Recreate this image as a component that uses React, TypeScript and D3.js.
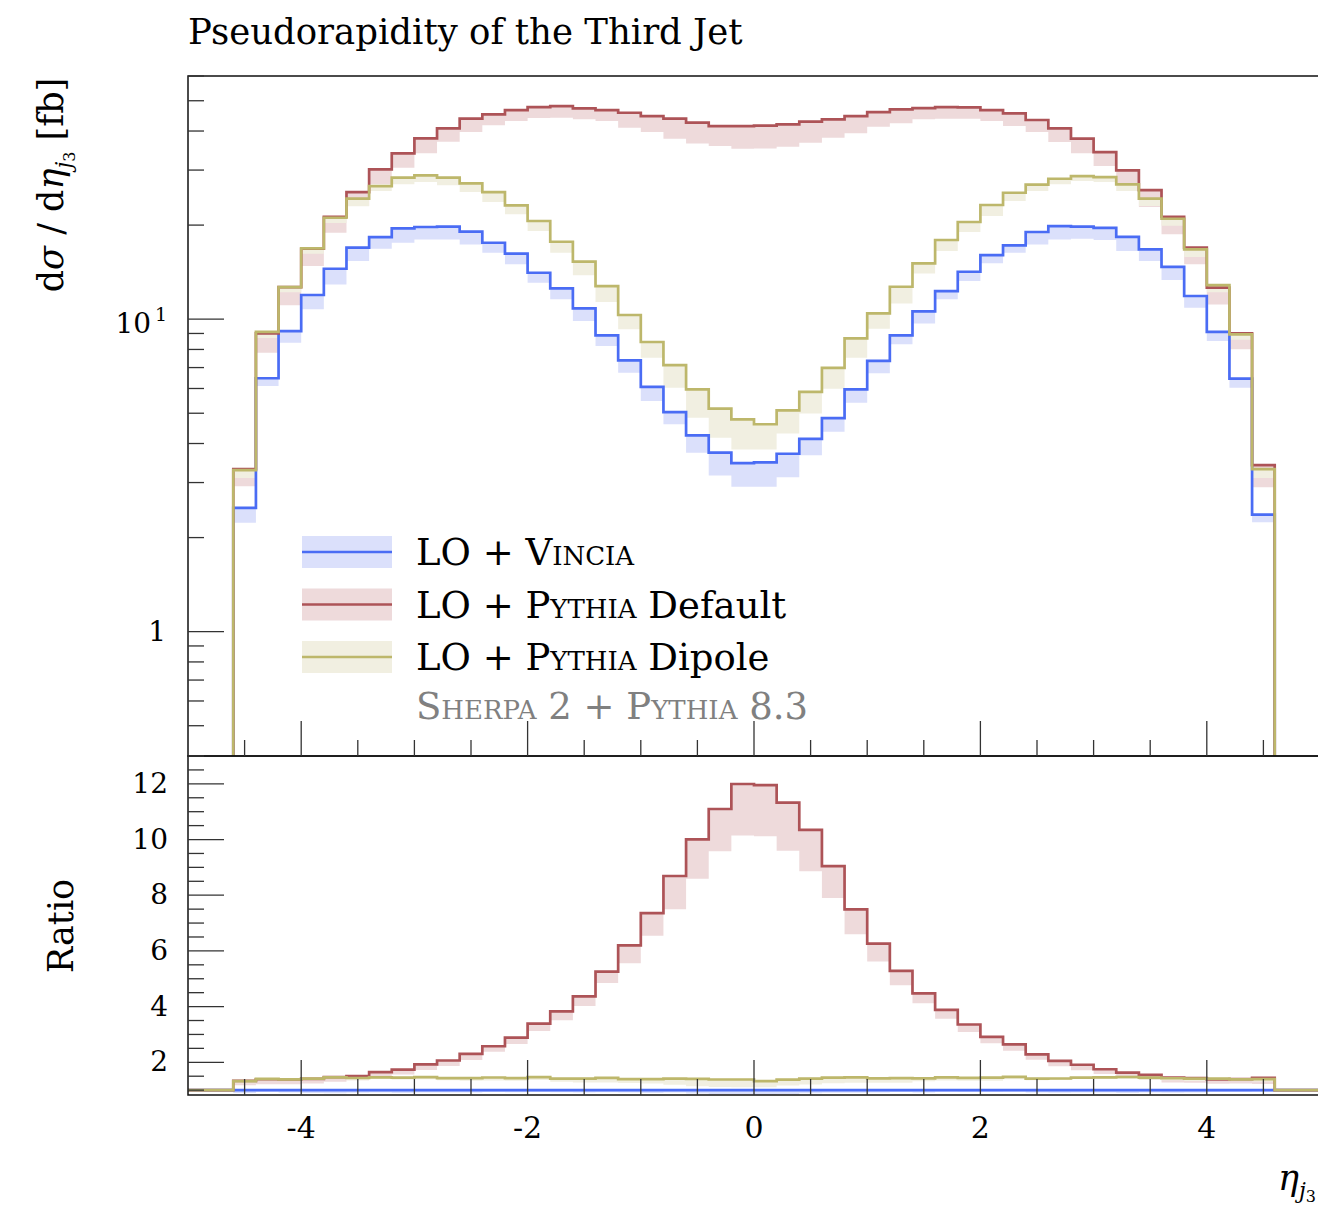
import React, { useEffect, useRef } from 'react';
import * as d3 from 'd3';

// bin edges in eta (46 bins of 0.2)
const binEdges = [
  -4.6, -4.4, -4.2, -4.0, -3.8, -3.6, -3.4, -3.2, -3.0, -2.8, -2.6, -2.4, -2.2, -2.0, -1.8, -1.6,
  -1.4, -1.2, -1.0, -0.8, -0.6, -0.4, -0.2, 0, 0.2, 0.4, 0.6, 0.8, 1.0, 1.2, 1.4, 1.6, 1.8, 2.0,
  2.2, 2.4, 2.6, 2.8, 3.0, 3.2, 3.4, 3.6, 3.8, 4.0, 4.2, 4.4, 4.6
];

// LO + Vincia
const vincia = [
  2.49, 6.47, 9.16, 11.95, 14.5, 16.93, 18.31, 19.53, 19.72, 19.77, 19.05, 17.56, 16.2, 14.08, 12.55, 10.83,
  8.88, 7.38, 6.07, 5.04, 4.25, 3.74, 3.46, 3.48, 3.71, 4.14, 4.82, 5.96, 7.35, 8.88, 10.59, 12.3,
  14.18, 16.04, 17.22, 19.01, 19.86, 19.77, 19.58, 18.35, 16.73, 14.69, 11.86, 9.1, 6.45, 2.37
];
const vinciaLow = [
  2.23, 6.11, 8.41, 10.75, 12.92, 15.35, 16.81, 17.56, 18.0, 18.0, 17.35, 16.32, 14.98, 13.08, 11.57, 9.86,
  8.2, 6.74, 5.47, 4.61, 3.74, 3.16, 2.91, 2.91, 3.12, 3.67, 4.36, 5.4, 6.71, 8.31, 9.69, 11.57,
  13.24, 15.09, 16.32, 17.35, 18.0, 18.1, 17.92, 16.52, 15.35, 13.34, 10.88, 8.51, 6.03, 2.24
];

// LO + Pythia Default
const pythiaDefault = [
  3.31, 9.0, 12.67, 16.8, 21.27, 25.51, 30.16, 33.93, 37.9, 40.79, 43.8, 45.22, 46.69, 47.73, 48.08, 47.27,
  46.69, 45.76, 44.67, 43.8, 42.53, 41.5, 41.5, 41.6, 42.02, 42.84, 43.6, 44.67, 46.0, 46.92, 47.37, 47.73,
  47.6, 46.69, 45.55, 43.38, 40.79, 37.8, 34.26, 29.94, 25.89, 21.27, 16.93, 12.61, 9.01, 3.41
];
const pythiaDefaultLow = [
  2.92, 7.81, 11.07, 14.79, 18.91, 23.01, 27.01, 30.52, 33.93, 36.97, 39.7, 41.71, 43.06, 44.02, 44.1, 43.6,
  43.06, 40.98, 39.7, 37.8, 36.52, 35.81, 35.11, 35.2, 35.6, 36.69, 38.08, 39.33, 41.29, 42.33, 43.6, 43.8,
  43.8, 43.06, 41.5, 39.7, 36.9, 33.93, 30.9, 27.21, 22.85, 18.68, 14.98, 11.15, 8.01, 2.9
];

// LO + Pythia Dipole
const pythiaDipole = [
  3.29, 9.1, 12.67, 16.85, 21.11, 24.29, 26.67, 28.36, 28.86, 28.36, 27.21, 25.51, 23.13, 20.61, 17.69, 15.27,
  12.76, 10.31, 8.45, 7.13, 5.96, 5.17, 4.78, 4.61, 5.11, 5.85, 6.98, 8.68, 10.44, 12.7, 15.09, 17.92,
  20.46, 23.19, 25.38, 26.93, 28.14, 28.71, 28.5, 27.01, 24.29, 20.96, 16.73, 12.86, 8.94, 3.31
];
const pythiaDipoleLow = [
  3.1, 8.7, 12.2, 16.2, 20.3, 23.0, 25.7, 27.0, 27.47, 26.82, 25.51, 23.71, 21.65, 19.14, 16.32, 13.81,
  11.34, 9.28, 7.52, 6.03, 4.84, 4.17, 3.83, 3.83, 4.31, 4.99, 5.99, 7.52, 9.32, 11.23, 14.01, 16.52,
  19.01, 21.38, 23.88, 25.7, 27.01, 27.67, 27.47, 25.7, 23.01, 19.9, 15.8, 12.2, 8.6, 3.1
];

const xMajorTicks = [-4, -2, 0, 2, 4];
const yMainMajor = [1, 10];
const yMainMinor = [0.4, 0.5, 0.6, 0.7, 0.8, 0.9, 2, 3, 4, 5, 6, 7, 8, 9, 20, 30, 40, 50, 60];
const yRatioMajor = [2, 4, 6, 8, 10, 12];

const FONT = '"DejaVu Serif", "Liberation Serif", serif';

export default function App() {
  const svgRef = useRef<SVGSVGElement>(null);

  useEffect(() => {
    if (!svgRef.current) return;
    const svg = d3.select(svgRef.current);
    svg.selectAll('*').remove();

    const left = 188, right = 1320, top = 76, mid = 756, bottom = 1095;

    const x = d3.scaleLinear().domain([-5, 5]).range([left, right]);
    const y = d3.scaleLog().domain([0.4, 60]).range([mid, top]);
    const yr = d3.scaleLinear().domain([0.825, 13]).range([bottom, mid]);

    const series = [
      { name: 'Vincia', values: vincia, low: vinciaLow, line: '#4a6cf4', band: '#dbe0fb' },
      { name: 'Default', values: pythiaDefault, low: pythiaDefaultLow, line: '#ad5357', band: '#eedadb' },
      { name: 'Dipole', values: pythiaDipole, low: pythiaDipoleLow, line: '#bdb76b', band: '#f1efe1' }
    ];
    const nb = binEdges.length - 1;
    const at = (arr: number[], i: number) => arr[Math.min(i, nb - 1)];

    const defs = svg.append('defs');
    defs.append('clipPath').attr('id', 'clipMain').append('rect')
      .attr('x', left).attr('y', top).attr('width', right - left).attr('height', mid - top);
    defs.append('clipPath').attr('id', 'clipRatio').append('rect')
      .attr('x', left).attr('y', mid).attr('width', right - left).attr('height', bottom - mid);

    // ---- main panel ----
    const gMain = svg.append('g').attr('clip-path', 'url(#clipMain)');
    series.forEach(s => {
      const pts = binEdges.map((e, i) => ({ x: e, lo: at(s.low, i), hi: at(s.values, i) }));
      const area = d3.area<any>().curve(d3.curveStepAfter)
        .x(d => x(d.x)).y0(d => y(d.lo)).y1(d => y(d.hi));
      gMain.append('path').attr('d', area(pts)).attr('fill', s.band);
    });
    series.forEach(s => {
      const pts = [
        { x: binEdges[0], v: 0.1 },
        ...binEdges.map((e, i) => ({ x: e, v: at(s.values, i) })),
        { x: binEdges[nb], v: 0.1 }
      ];
      const line = d3.line<any>().curve(d3.curveStepAfter).x(d => x(d.x)).y(d => y(d.v));
      gMain.append('path').attr('d', line(pts)).attr('fill', 'none')
        .attr('stroke', s.line).attr('stroke-width', 2.7);
    });

    // ---- ratio panel ----
    const gRatio = svg.append('g').attr('clip-path', 'url(#clipRatio)');
    series.forEach(s => {
      const pts = binEdges.map((e, i) => ({
        x: e, lo: at(s.low, i) / at(vincia, i), hi: at(s.values, i) / at(vincia, i)
      }));
      const area = d3.area<any>().curve(d3.curveStepAfter)
        .x(d => x(d.x)).y0(d => yr(d.lo)).y1(d => yr(d.hi));
      gRatio.append('path').attr('d', area(pts)).attr('fill', s.band);
    });
    series.forEach(s => {
      const pts = [
        { x: -5, v: 1 },
        ...binEdges.slice(0, nb).map((e, i) => ({ x: e, v: s.values[i] / vincia[i] })),
        { x: binEdges[nb], v: 1 },
        { x: 5, v: 1 }
      ];
      const line = d3.line<any>().curve(d3.curveStepAfter).x(d => x(d.x)).y(d => yr(d.v));
      gRatio.append('path').attr('d', line(pts)).attr('fill', 'none')
        .attr('stroke', s.line).attr('stroke-width', 2.7);
    });

    // ---- frames ----
    [[top, mid], [mid, bottom]].forEach(([t, b]) => {
      svg.append('rect').attr('x', left).attr('y', t).attr('width', right - left).attr('height', b - t)
        .attr('fill', 'none').attr('stroke', '#111').attr('stroke-width', 1.5);
    });

    // ---- ticks ----
    const ticks = svg.append('g').attr('stroke', '#333').attr('stroke-width', 1.3);
    const xMinor = d3.range(-4.5, 5, 0.5).filter(t => !xMajorTicks.includes(t));
    [mid, bottom].forEach(base => {
      xMajorTicks.forEach(t => ticks.append('line')
        .attr('x1', x(t)).attr('x2', x(t)).attr('y1', base).attr('y2', base - 35));
      xMinor.forEach(t => ticks.append('line')
        .attr('x1', x(t)).attr('x2', x(t)).attr('y1', base).attr('y2', base - 16));
    });
    yMainMajor.forEach(t => ticks.append('line')
      .attr('x1', left).attr('x2', left + 36).attr('y1', y(t)).attr('y2', y(t)));
    yMainMinor.forEach(t => ticks.append('line')
      .attr('x1', left).attr('x2', left + 16).attr('y1', y(t)).attr('y2', y(t)));
    const yrMinor = d3.range(1, 13, 0.5).filter(t => !yRatioMajor.includes(t));
    yRatioMajor.forEach(t => ticks.append('line')
      .attr('x1', left).attr('x2', left + 36).attr('y1', yr(t)).attr('y2', yr(t)));
    yrMinor.forEach(t => ticks.append('line')
      .attr('x1', left).attr('x2', left + 16).attr('y1', yr(t)).attr('y2', yr(t)));

    // ---- tick labels ----
    const txt = svg.append('g').style('font-family', FONT).attr('fill', '#000');
    const tenth = txt.append('text').attr('x', 167).attr('y', 333).attr('text-anchor', 'end')
      .style('font-size', '28px');
    tenth.append('tspan').text('10');
    tenth.append('tspan').attr('dy', -12).style('font-size', '19px').text('\u2009' + '1');
    txt.append('text').attr('x', 166).attr('y', 641).attr('text-anchor', 'end')
      .style('font-size', '28px').text('1');
    yRatioMajor.forEach(t => txt.append('text').attr('x', 168).attr('y', yr(t) + 9)
      .attr('text-anchor', 'end').style('font-size', '28px').text(String(t)));
    xMajorTicks.forEach(t => txt.append('text').attr('x', x(t)).attr('y', 1138)
      .attr('text-anchor', 'middle').style('font-size', '30px').text(t < 0 ? '-' + Math.abs(t) : String(t)));

    // ---- titles ----
    txt.append('text').attr('x', 188).attr('y', 44).style('font-size', '35.5px')
      .text('Pseudorapidity of the Third Jet');

    const yl = txt.append('text').attr('transform', 'translate(63,185) rotate(-90)')
      .attr('text-anchor', 'middle').style('font-size', '35px');
    yl.append('tspan').text('d');
    yl.append('tspan').style('font-style', 'italic').text('σ');
    yl.append('tspan').text(' / d');
    yl.append('tspan').style('font-style', 'italic').text('η');
    yl.append('tspan').style('font-style', 'italic').style('font-size', '22px').attr('dy', 8).text('j');
    yl.append('tspan').style('font-size', '16px').attr('dy', 4).text('3');
    yl.append('tspan').attr('dy', -12).text(' [fb]');

    txt.append('text').attr('transform', 'translate(73,926) rotate(-90)')
      .attr('text-anchor', 'middle').style('font-size', '35px').text('Ratio');

    const xl = txt.append('text').attr('x', 1316).attr('y', 1190).attr('text-anchor', 'end')
      .style('font-size', '35px');
    xl.append('tspan').style('font-style', 'italic').text('η');
    xl.append('tspan').style('font-style', 'italic').style('font-size', '22px').attr('dy', 8).text('j');
    xl.append('tspan').style('font-size', '16px').attr('dy', 4).text('3');

    // ---- legend ----
    const legendLabels = [
      ['LO + ', 'Vincia', ''],
      ['LO + ', 'Pythia', ' Default'],
      ['LO + ', 'Pythia', ' Dipole']
    ];
    const rowY = [552, 604.5, 657];
    series.forEach((s, i) => {
      svg.append('rect').attr('x', 302).attr('y', rowY[i] - 16).attr('width', 90).attr('height', 32)
        .attr('fill', s.band);
      svg.append('line').attr('x1', 302).attr('x2', 392).attr('y1', rowY[i]).attr('y2', rowY[i])
        .attr('stroke', s.line).attr('stroke-width', 2.7);
      const t = txt.append('text').attr('x', 416).attr('y', rowY[i] + 13).style('font-size', '37px');
      t.append('tspan').text(legendLabels[i][0]);
      t.append('tspan').style('font-variant', 'small-caps').text(legendLabels[i][1]);
      t.append('tspan').text(legendLabels[i][2]);
    });
    const sh = txt.append('text').attr('x', 416).attr('y', 719).style('font-size', '37px')
      .attr('fill', '#808080');
    sh.append('tspan').style('font-variant', 'small-caps').text('Sherpa');
    sh.append('tspan').text(' 2 + ');
    sh.append('tspan').style('font-variant', 'small-caps').text('Pythia');
    sh.append('tspan').text(' 8.3');
  }, []);

  return (
    <svg
      ref={svgRef}
      width={1318}
      height={1208}
      style={{ position: 'absolute', left: 0, top: 0, display: 'block', background: '#fff' }}
    />
  );
}
